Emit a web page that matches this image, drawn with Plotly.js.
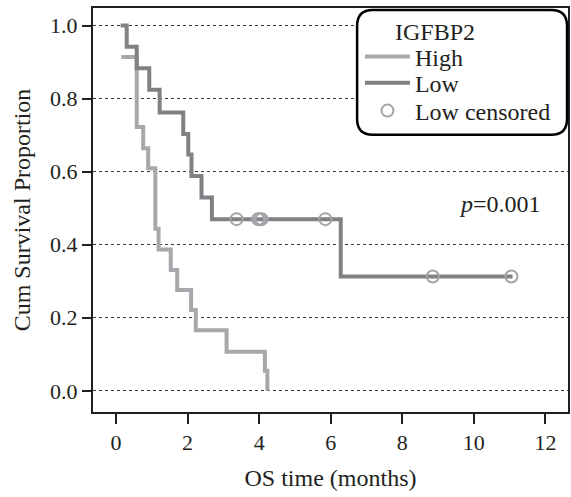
<!DOCTYPE html>
<html>
<head>
<meta charset="utf-8">
<script src="https://cdn.plot.ly/plotly-3.0.1.min.js"></script>
<style>html,body{margin:0;padding:0;background:#fff;}#chart{width:571px;height:497px;}</style>
</head>
<body>
<div id="chart"></div>
<script>
// Kaplan-Meier data
var highTime = [0.15, 0.58, 0.76, 0.90, 1.10, 1.19, 1.53, 1.71, 2.10, 2.23, 3.09, 4.16, 4.23];
var highSurv = [0.914, 0.722, 0.664, 0.609, 0.444, 0.387, 0.331, 0.276, 0.221, 0.166, 0.107, 0.055, 0.0];
var lowTime = [0.13, 0.30, 0.58, 0.93, 1.22, 1.88, 2.02, 2.11, 2.39, 2.68, 6.28, 11.08];
var lowSurv = [1.0, 0.942, 0.883, 0.824, 0.762, 0.703, 0.647, 0.588, 0.529, 0.470, 0.313, 0.313];
var censTime = [3.37, 3.97, 4.02, 4.07, 5.85, 8.85, 11.05];
var censSurv = [0.470, 0.470, 0.470, 0.470, 0.470, 0.313, 0.313];
var xTicks = [0, 2, 4, 6, 8, 10, 12];
var yTicks = [0.0, 0.2, 0.4, 0.6, 0.8, 1.0];
var yTickText = ['0.0', '0.2', '0.4', '0.6', '0.8', '1.0'];
var seriesNames = ['High', 'Low', 'Low censored'];
var legendTitle = 'IGFBP2';
var pText = '<i>p</i>=0.001';

var FONT = 'Liberation Serif, Times New Roman, serif';
var TXT = '#231f20';
var cHigh = '#a7a8ab', cLow = '#808184', cCens = '#a3a4a7';

var traces = [
  {x: highTime, y: highSurv, name: seriesNames[0], mode: 'lines', type: 'scatter', legend: 'legend',
   line: {shape: 'hv', color: cHigh, width: 4}},
  {x: lowTime, y: lowSurv, name: seriesNames[1], mode: 'lines', type: 'scatter', legend: 'legend2',
   line: {shape: 'hv', color: cLow, width: 4}},
  {x: censTime, y: censSurv, name: seriesNames[2], mode: 'markers', type: 'scatter', legend: 'legend3',
   marker: {symbol: 'circle-open', size: 12, color: cCens, line: {width: 2, color: cCens}}}
];

// legend rounded box in paper coords
var x0 = 0.556, x1 = 0.998, y0 = 0.686, y1 = 0.995, rx = 0.033, ry = 0.039;
var path = 'M' + (x0+rx) + ',' + y1 + ' L' + (x1-rx) + ',' + y1 +
  ' Q' + x1 + ',' + y1 + ' ' + x1 + ',' + (y1-ry) +
  ' L' + x1 + ',' + (y0+ry) + ' Q' + x1 + ',' + y0 + ' ' + (x1-rx) + ',' + y0 +
  ' L' + (x0+rx) + ',' + y0 + ' Q' + x0 + ',' + y0 + ' ' + x0 + ',' + (y0+ry) +
  ' L' + x0 + ',' + (y1-ry) + ' Q' + x0 + ',' + y1 + ' ' + (x0+rx) + ',' + y1 + ' Z';

function leg(y) {
  return {x: 0.562, y: y, xanchor: 'left', yanchor: 'middle', bgcolor: 'rgba(0,0,0,0)',
          borderwidth: 0, font: {family: FONT, size: 24, color: TXT}, itemwidth: 45};
}

var layout = {
  width: 571, height: 497,
  margin: {l: 93, r: 3, t: 8, b: 85},
  paper_bgcolor: '#fff', plot_bgcolor: '#fff',
  font: {family: FONT, size: 22, color: TXT},
  showlegend: true,
  legend: leg(0.879), legend2: leg(0.814), legend3: leg(0.745),
  xaxis: {range: [-0.642, 12.63], tickvals: xTicks, ticks: 'outside', ticklen: 10, tickwidth: 2,
          tickcolor: TXT, showgrid: false, zeroline: false, showline: true, linewidth: 2,
          linecolor: TXT, mirror: true, tickfont: {family: FONT, size: 22, color: TXT},
          title: {text: 'OS time (months)', font: {family: FONT, size: 24, color: TXT}, standoff: 15}},
  yaxis: {range: [-0.058, 1.048], tickvals: yTicks, ticktext: yTickText, ticks: 'outside', ticklen: 9,
          tickwidth: 2, tickcolor: TXT, showgrid: true, gridcolor: '#3a3a3a', griddash: 'dot',
          gridwidth: 1, zeroline: false, showline: true, linewidth: 2, linecolor: TXT, mirror: true,
          tickfont: {family: FONT, size: 22, color: TXT},
          title: {text: 'Cum Survival Proportion', font: {family: FONT, size: 24, color: TXT}, standoff: 13}},
  shapes: [{type: 'path', xref: 'paper', yref: 'paper', path: path, layer: 'above',
            fillcolor: '#fff', line: {color: '#000', width: 2.5}}],
  annotations: [
    {xref: 'paper', yref: 'paper', x: 0.632, y: 0.941, xanchor: 'left', yanchor: 'middle',
     text: legendTitle, showarrow: false, font: {family: FONT, size: 24, color: TXT}},
    {xref: 'x', yref: 'y', x: 10.73, y: 0.512, xanchor: 'center', yanchor: 'middle',
     text: pText, showarrow: false, font: {family: FONT, size: 24, color: TXT}}
  ]
};

Plotly.newPlot('chart', traces, layout, {staticPlot: true, displayModeBar: false});
</script>
</body>
</html>
